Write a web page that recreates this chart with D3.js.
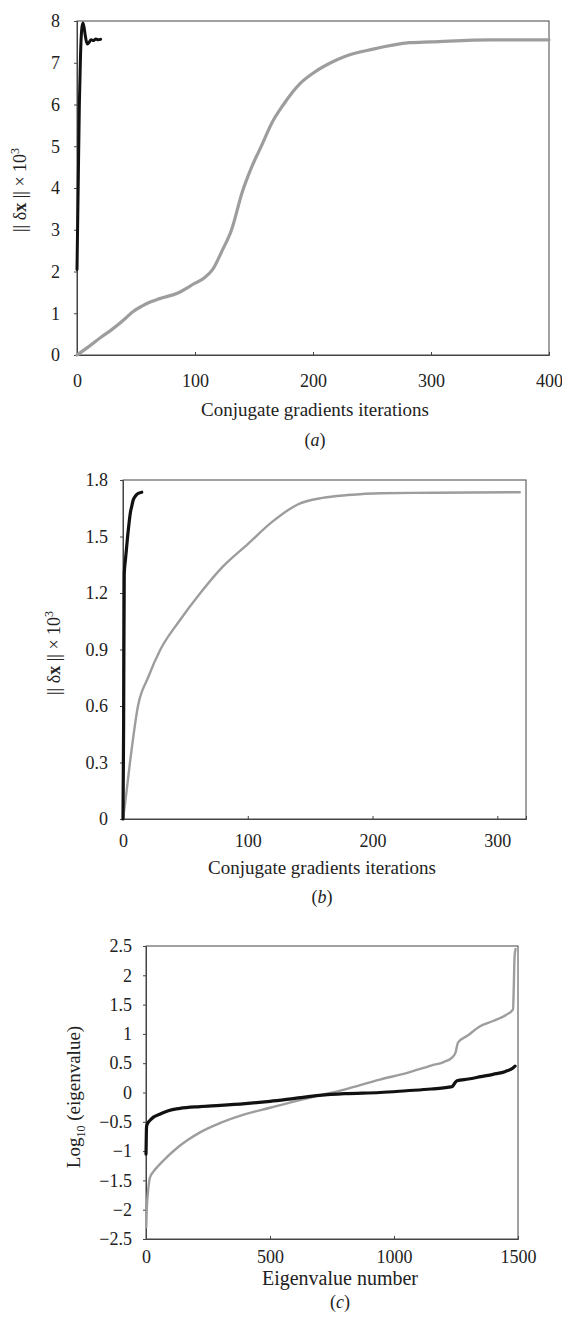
<!DOCTYPE html>
<html><head><meta charset="utf-8">
<script src="https://cdn.jsdelivr.net/npm/d3@7"></script>
<style>
body{margin:0;background:#fff;}
svg{display:block;}
text{font-family:"Liberation Serif","Times New Roman",serif;fill:#222;}
</style></head>
<body><svg id="c" width="562" height="1327" font-family="Liberation Serif, serif"></svg>
<script>
// ---------- Panel (a) ----------
const aSlowIter = [0,10,20,30,40,47,55,62,70,85,100,108,115,123,131,140,148,157,165,175,189,200,215,227,250,282,300,350,400];
const aSlowVal  = [0,0.2,0.42,0.62,0.85,1.03,1.17,1.27,1.35,1.48,1.72,1.85,2.05,2.5,3.0,3.9,4.5,5.05,5.55,6.0,6.5,6.75,7.0,7.15,7.32,7.48,7.5,7.55,7.55];
const aFastIter = [0,1,2,3,4,5,6,7,8,9,10,12,14,16,18,20];
const aFastVal  = [2.05,4.0,6.0,7.2,7.8,7.95,7.85,7.65,7.5,7.45,7.48,7.55,7.53,7.57,7.55,7.56];
const aXTicks = [0,100,200,300,400];
const aYTicks = [0,1,2,3,4,5,6,7,8];

// ---------- Panel (b) ----------
const bSlowIter = [0,2,5.6,12,20,30,45,62,80,100,120,140,160,180,207,250,318];
const bSlowVal  = [0,0.1,0.3,0.6,0.75,0.9,1.05,1.2,1.34,1.46,1.58,1.67,1.705,1.72,1.73,1.732,1.735];
const bFastIter = [0,0.5,1,2,3,4,5,6,7,8,10,12,15];
const bFastVal  = [0,0.5,1.3,1.38,1.45,1.52,1.58,1.63,1.66,1.69,1.715,1.728,1.735];
const bXTicks = [0,100,200,300];
const bYTicks = [0,0.3,0.6,0.9,1.2,1.5,1.8];
const bYLabels = ["0","0.3","0.6","0.9","1.2","1.5","1.8"];

// ---------- Panel (c) ----------
const cGrayNum = [1,3,8,16,30,50,85,130,165,218,300,400,500,600,700,800,943,1050,1150,1200,1235,1248,1258,1300,1347,1400,1450,1480,1483,1486,1490];
const cGrayVal = [-2.3,-2.0,-1.7,-1.45,-1.35,-1.25,-1.1,-0.93,-0.82,-0.68,-0.52,-0.37,-0.26,-0.15,-0.05,0.05,0.22,0.33,0.46,0.52,0.6,0.68,0.85,0.98,1.13,1.22,1.32,1.42,1.8,2.3,2.45];
const cBlackNum = [0,1,2,4,15,30,56,90,137,218,300,400,500,600,700,800,943,1050,1150,1234,1245,1254,1300,1350,1400,1450,1480,1488];
const cBlackVal = [-1.05,-0.8,-0.6,-0.55,-0.48,-0.42,-0.37,-0.31,-0.27,-0.24,-0.22,-0.19,-0.15,-0.1,-0.05,-0.02,0.0,0.03,0.06,0.1,0.16,0.2,0.23,0.27,0.31,0.36,0.42,0.45];
const cXTicks = [0,500,1000,1500];
const cYTicks = [-2.5,-2,-1.5,-1,-0.5,0,0.5,1,1.5,2,2.5];

const svg = d3.select("#c");
const GRAY = "#9d9d9d", BLACK = "#111", AXIS = "#444";
const FONT = "'Liberation Serif','Times New Roman',serif";

function panel(o){
  const x = d3.scaleLinear().domain(o.xDom).range([o.left,o.right]);
  const y = d3.scaleLinear().domain(o.yDom).range([o.bottom,o.top]);
  const g = svg.append("g");
  g.append("rect").attr("x",o.left).attr("y",o.top)
   .attr("width",o.right-o.left).attr("height",o.bottom-o.top)
   .attr("fill","none").attr("stroke",AXIS).attr("stroke-width",1);
  const xa = d3.axisBottom(x).tickValues(o.xTicks).tickSize(-3).tickPadding(o.xPad).tickFormat(d3.format("d"));
  const ya = d3.axisLeft(y).tickValues(o.yTicks).tickSize(3).tickPadding(o.yPad)
      .tickFormat((d,i)=> o.yLabels ? o.yLabels[i] : String(d).replace("-","\u2212"));
  const gx = g.append("g").attr("transform",`translate(0,${o.bottom})`).call(xa);
  const gy = g.append("g").attr("transform",`translate(${o.left},0)`).call(ya);
  [gx,gy].forEach(a=>{
    a.attr("font-family",FONT).attr("font-size",18);
    a.select(".domain").attr("stroke",AXIS);
    a.selectAll(".tick line").attr("stroke",AXIS);
    a.selectAll(".tick text").attr("font-size",18).attr("fill","#222").style("font-family",FONT);
  });
  const line = d3.line().x(d=>x(d[0])).y(d=>y(d[1])).curve(d3.curveMonotoneX);
  o.series.forEach(s=>{
    g.append("path").datum(d3.zip(s.x,s.y)).attr("d",line)
     .attr("fill","none").attr("stroke",s.color).attr("stroke-width",s.w)
     .attr("stroke-linejoin","round").attr("stroke-linecap","round");
  });
  g.append("text").attr("x",o.titleX).attr("y",o.xTitleY).attr("text-anchor","middle")
   .attr("font-size",o.titleSize).style("font-family",FONT).text(o.xTitle);
  const cap = g.append("text").attr("x",o.titleX).attr("y",o.capY).attr("text-anchor","middle")
   .attr("font-size",18).style("font-family",FONT);
  cap.append("tspan").text("(");
  cap.append("tspan").attr("font-style","italic").text(o.cap);
  cap.append("tspan").text(")");
  const yt = g.append("text").attr("transform",`translate(${o.yTitleX},${o.yTitleY}) rotate(-90)`)
   .attr("text-anchor","middle").attr("font-size",o.yTitleSize).style("font-family",FONT);
  o.yTitle(yt);
}

function dxLabel(t){
  t.append("tspan").text("|| \u03b4");
  t.append("tspan").attr("font-weight","bold").text("x");
  t.append("tspan").text(" || \u00d7 10");
  t.append("tspan").attr("font-size",12).attr("dy",-7).text("3");
}

panel({left:77,right:549,top:21,bottom:355,xDom:[0,400],yDom:[0,8],
  xTicks:aXTicks,yTicks:aYTicks,xPad:19,yPad:14,
  series:[{x:aSlowIter,y:aSlowVal,color:GRAY,w:3.2},{x:aFastIter,y:aFastVal,color:BLACK,w:3}],
  xTitle:"Conjugate gradients iterations",titleX:315,xTitleY:416,titleSize:19,cap:"a",capY:446,
  yTitleX:26,yTitleY:190,yTitleSize:18,yTitle:dxLabel});

panel({left:123,right:526,top:480,bottom:819,xDom:[0,323],yDom:[0,1.8],
  xTicks:bXTicks,yTicks:bYTicks,yLabels:bYLabels,xPad:15,yPad:12,
  series:[{x:bSlowIter,y:bSlowVal,color:GRAY,w:2.4},{x:bFastIter,y:bFastVal,color:BLACK,w:3.2}],
  xTitle:"Conjugate gradients iterations",titleX:322,xTitleY:874,titleSize:19,cap:"b",capY:903,
  yTitleX:60,yTitleY:653,yTitleSize:18,yTitle:dxLabel});

panel({left:146,right:518,top:946,bottom:1239,xDom:[0,1500],yDom:[-2.5,2.5],
  xTicks:cXTicks,yTicks:cYTicks,xPad:11,yPad:11,
  series:[{x:cGrayNum,y:cGrayVal,color:GRAY,w:2.4},{x:cBlackNum,y:cBlackVal,color:BLACK,w:3.2}],
  xTitle:"Eigenvalue number",titleX:340,xTitleY:1285,titleSize:20,cap:"c",capY:1308,
  yTitleX:80,yTitleY:1097,yTitleSize:19,yTitle:t=>{
    t.append("tspan").text("Log");
    t.append("tspan").attr("font-size",12).attr("dy",5).text("10");
    t.append("tspan").attr("dy",-5).text(" (eigenvalue)");
  }});
</script></body></html>
